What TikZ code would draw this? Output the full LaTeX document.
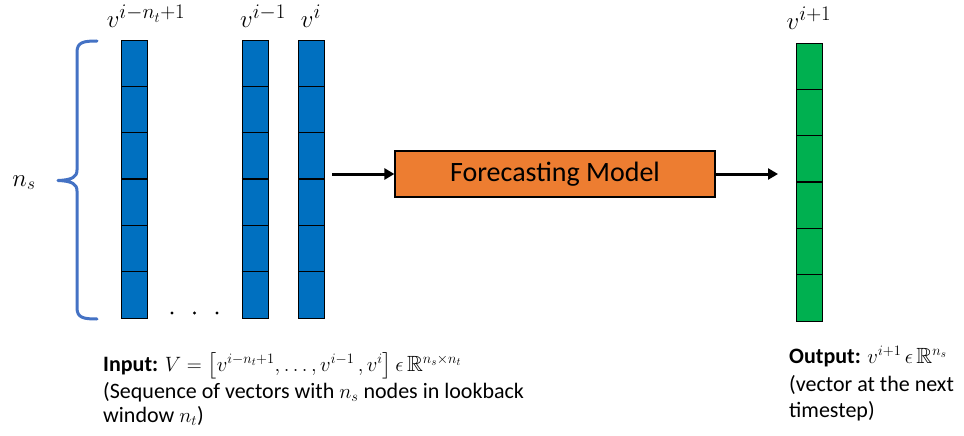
\documentclass[tikz,border=0pt]{standalone}
\usepackage{amsmath,amssymb}
\usepackage{fontspec}
\setmainfont{Carlito}
\usetikzlibrary{arrows.meta}
\definecolor{colblue}{HTML}{0070C0}
\definecolor{colgreen}{HTML}{00B050}
\definecolor{colorange}{HTML}{ED7D31}
\definecolor{bracecol}{HTML}{4472C4}
\begin{document}
\begin{tikzpicture}[x=1pt,y=-1pt,
  column/.style={draw=black,line width=1.2pt,minimum width=26pt,minimum height=278pt,inner sep=0pt,anchor=north west},
  divider/.style={draw=black,line width=1.2pt},
  lab/.style={anchor=base,inner sep=0pt,font=\fontsize{28}{32}\selectfont},
  txt/.style={anchor=base west,inner sep=0pt,font=\fontsize{22}{26}\selectfont},
  conn/.style={line width=3pt,-{Triangle[length=10pt,width=11pt]}},
  model/.style={draw=black,line width=1.2pt,fill=colorange,minimum width=320pt,minimum height=46pt,inner sep=0pt,font=\fontsize{28}{32}\selectfont}
]
\useasboundingbox (0,0) rectangle (964,436);

% input columns
\node[column,fill=colblue] (colA) at (121,40) {};
\node[column,fill=colblue] (colB) at (241.5,40) {};
\node[column,fill=colblue] (colC) at (298,40) {};
\node[column,fill=colgreen] (colOut) at (796,43) {};
\foreach \c in {colA,colB,colC,colOut}{
  \foreach \k in {1,...,5}{
    \draw[divider] (\c.north west) ++(0,\k*46.33) -- ++(26,0);
  }
}

% column labels
\node[lab] (lA) at (146,28) {$v^{i-n_t+1}$};
\node[lab] (lB) at (263,28) {$v^{i-1}$};
\node[lab] (lC) at (311,28) {$v^{i}$};
\node[lab] (lOut) at (809,30) {$v^{i+1}$};

% dots
\foreach \x/\n in {172/d1,194.5/d2,217/d3}{
  \fill (\x,313) circle (1.6pt);
}

% brace
\draw[bracecol,line width=3pt,line cap=round,line join=round]
  (97,41) .. controls (84,41) and (77,42) .. (77,52)
  -- (77,170) .. controls (77,177) and (72,180) .. (58,180.5)
  .. controls (72,181) and (77,184) .. (77,191)
  -- (77,308) .. controls (77,318) and (84,319) .. (97,319);
\node[lab,anchor=base,font=\fontsize{27}{30}\selectfont] (ns) at (24,186) {$n_s$};

% model and arrows
\node[model] (model) at (555,174) {Forecasting Model};
\coordinate (a1) at (332,174);
\coordinate (a2) at (778,174);
\draw[conn] (a1) -- (model.west);
\draw[conn] (model.east) -- (a2);

% input text
\node[txt] (in1) at (103,371) {\textbf{Input:} $V=\bigl[v^{i-n_t+1},\dots,v^{i-1}\,,v^{i}\bigr]\,\epsilon\,\mathbb{R}^{n_s\times n_t}$};
\node[txt] (in2) at (103,398) {(Sequence of vectors with $n_s$ nodes in lookback};
\node[txt] (in3) at (103,422) {window $n_t$)};

% output text
\node[txt] (out1) at (789,363) {\textbf{Output:} $v^{i+1}\,\epsilon\,\mathbb{R}^{n_s}$};
\node[txt] (out2) at (789,391) {(vector at the next};
\node[txt] (out3) at (789,417) {timestep)};
\end{tikzpicture}
\end{document}
